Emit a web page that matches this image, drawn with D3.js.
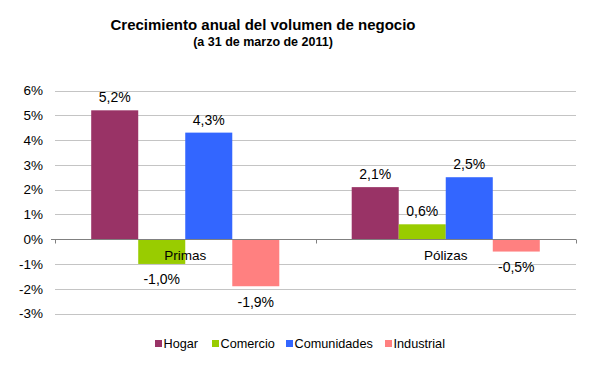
<!DOCTYPE html>
<html>
<head>
<meta charset="utf-8">
<script src="https://cdn.jsdelivr.net/npm/d3@7"></script>
<style>
  body { margin: 0; background: #fff; }
  text { font-family: "Liberation Sans", Arial, sans-serif; fill: #000; }
</style>
</head>
<body>
<div id="chart"></div>
<script>
var categories = ["Primas", "Pólizas"];
var series = ["Hogar", "Comercio", "Comunidades", "Industrial"];
var hogar = [5.2, 2.1];
var comercio = [-1.0, 0.6];
var comunidades = [4.3, 2.5];
var industrial = [-1.9, -0.5];
var yTicks = [-3, -2, -1, 0, 1, 2, 3, 4, 5, 6];
var colors = ["#993366", "#99cc00", "#3366ff", "#ff8080"];

var values = [hogar, comercio, comunidades, industrial];

var width = 591, height = 387;
var plotLeft = 55, plotRight = 576, plotTop = 90.5, plotBottom = 313.5;

var svg = d3.select("#chart")
  .append("svg")
  .attr("width", width)
  .attr("height", height);

// Title
svg.append("text")
  .attr("x", 263)
  .attr("y", 30)
  .attr("text-anchor", "middle")
  .attr("font-size", "15px")
  .attr("font-weight", "bold")
  .text("Crecimiento anual del volumen de negocio");

svg.append("text")
  .attr("x", 263)
  .attr("y", 46)
  .attr("text-anchor", "middle")
  .attr("font-size", "12.5px")
  .attr("font-weight", "bold")
  .text("(a 31 de marzo de 2011)");

// X Scale
var x0 = d3.scaleBand()
  .domain(categories)
  .range([plotLeft, plotRight])
  .padding(0);

var x1 = d3.scaleBand()
  .domain(series)
  .range([0, x0.bandwidth()])
  .paddingInner(0)
  .paddingOuter(0.77);

// Y Scale
var y = d3.scaleLinear()
  .domain([-3, 6])
  .range([plotBottom, plotTop]);

// gridlines
svg.append("g")
  .selectAll("line")
  .data(yTicks.filter(function (d) { return d !== 0; }))
  .enter()
  .append("line")
  .attr("x1", plotLeft)
  .attr("x2", plotRight)
  .attr("y1", function (d) { return Math.round(y(d)) + 0.5; })
  .attr("y2", function (d) { return Math.round(y(d)) + 0.5; })
  .attr("stroke", "#c4c4c4")
  .attr("stroke-width", 1);

// Y Axis labels
var yAxisCall = d3.axisLeft(y)
  .tickValues(yTicks)
  .tickSize(0)
  .tickPadding(12)
  .tickFormat(function (d) { return d + "%"; });

var yAxisGroup = svg.append("g")
  .attr("transform", "translate(" + plotLeft + ",0)")
  .call(yAxisCall);
yAxisGroup.select(".domain").remove();
yAxisGroup.selectAll("text")
  .attr("font-size", "13.5px")
  .attr("font-family", "Liberation Sans, Arial, sans-serif")
  .attr("fill", "#000");

// Bars
var rows = [];
categories.forEach(function (c, i) {
  series.forEach(function (s, j) {
    rows.push({ cat: c, ser: s, val: values[j][i], color: colors[j] });
  });
});

svg.append("g")
  .selectAll("rect")
  .data(rows)
  .enter()
  .append("rect")
  .attr("x", function (d) { return x0(d.cat) + x1(d.ser); })
  .attr("width", x1.bandwidth())
  .attr("y", function (d) { return y(Math.max(0, d.val)); })
  .attr("height", function (d) { return Math.abs(y(d.val) - y(0)); })
  .attr("fill", function (d) { return d.color; });

// zero axis
var y0 = Math.round(y(0)) + 0.5;
svg.append("line")
  .attr("x1", plotLeft - 4)
  .attr("x2", plotRight)
  .attr("y1", y0)
  .attr("y2", y0)
  .attr("stroke", "#808080");

svg.append("g")
  .selectAll("line")
  .data([plotLeft, plotLeft + x0.bandwidth(), plotRight])
  .enter()
  .append("line")
  .attr("x1", function (d) { return Math.round(d) + 0.5; })
  .attr("x2", function (d) { return Math.round(d) + 0.5; })
  .attr("y1", y0)
  .attr("y2", y0 + 4)
  .attr("stroke", "#808080");

// value labels
svg.append("g")
  .selectAll("text")
  .data(rows)
  .enter()
  .append("text")
  .attr("x", function (d) { return x0(d.cat) + x1(d.ser) + x1.bandwidth() / 2; })
  .attr("y", function (d) { return d.val >= 0 ? y(d.val) - 8 : y(d.val) + 20.5; })
  .attr("text-anchor", "middle")
  .attr("font-size", "14px")
  .text(function (d) { return d.val.toFixed(1).replace(".", ",") + "%"; });

// category labels
svg.append("g")
  .selectAll("text")
  .data(categories)
  .enter()
  .append("text")
  .attr("x", function (d) { return x0(d) + x0.bandwidth() / 2; })
  .attr("y", y(0) + 21)
  .attr("text-anchor", "middle")
  .attr("font-size", "13.5px")
  .text(function (d) { return d; });

// Legend
var legendX = [155, 212, 286, 385];
var legend = svg.append("g")
  .selectAll("g")
  .data(series)
  .enter()
  .append("g")
  .attr("transform", function (d, i) { return "translate(" + legendX[i] + ",0)"; });

legend.append("rect")
  .attr("x", 0)
  .attr("y", 340)
  .attr("width", 7)
  .attr("height", 7)
  .attr("fill", function (d, i) { return colors[i]; });

legend.append("text")
  .attr("x", 8.5)
  .attr("y", 348)
  .attr("font-size", "12.7px")
  .text(function (d) { return d; });
</script>
</body>
</html>
